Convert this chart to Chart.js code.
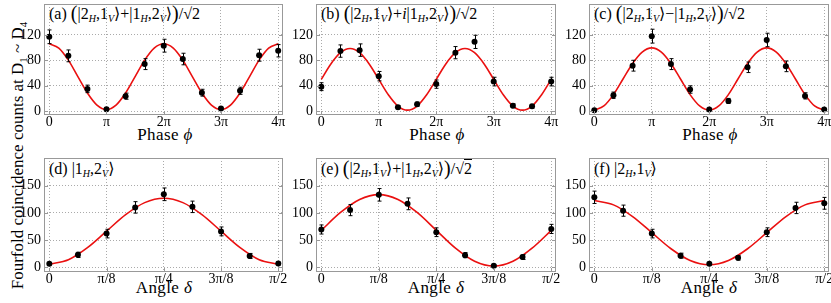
<!DOCTYPE html>
<html>
<head>
<meta charset="utf-8">
<script src="https://cdn.jsdelivr.net/npm/chart.js@4.4.0/dist/chart.umd.min.js"></script>
<style>
  body { margin: 0; width: 831px; height: 303px; position: relative; overflow: hidden; background: #fff; font-family: 'Liberation Serif', 'DejaVu Serif', serif; color: #000; }
  canvas { position: absolute; }
  .lbl { position: absolute; font-size: 16px; line-height: 16px; white-space: nowrap; }
  .lbl sub { font-size: 10px; font-style: italic; vertical-align: -3px; line-height: 0; }
  .big { font-size: 20px; line-height: 0; vertical-align: -1px; }
  .ov { border-top: 1px solid #000; }
  .xt { position: absolute; font-size: 17px; line-height: 17px; letter-spacing: 0.4px; white-space: nowrap; transform: translateX(-50%); }
  #ytitle { position: absolute; left: -133px; top: 147px; width: 300px; height: 17px; font-size: 17px; line-height: 17px; text-align: center; white-space: nowrap; transform: rotate(-90deg); }
  #ytitle sub { font-size: 11px; line-height: 0; }
</style>
</head>
<body>

<div id="ytitle">Fourfold coincidence counts at D<sub>1</sub> ~ D<sub>4</sub></div>

<div class="lbl" style="left:49px;top:6px">(a) <span class="big">(</span>|2<sub>H</sub>,1<sub>V</sub>⟩+|1<sub>H</sub>,2<sub>V</sub>⟩<span class="big">)</span>/√<span class="ov">2</span></div>
<div class="lbl" style="left:321px;top:6px">(b) <span class="big">(</span>|2<sub>H</sub>,1<sub>V</sub>⟩+<i>i</i>|1<sub>H</sub>,2<sub>V</sub>⟩<span class="big">)</span>/√<span class="ov">2</span></div>
<div class="lbl" style="left:594px;top:6px">(c) <span class="big">(</span>|2<sub>H</sub>,1<sub>V</sub>⟩−|1<sub>H</sub>,2<sub>V</sub>⟩<span class="big">)</span>/√<span class="ov">2</span></div>
<div class="lbl" style="left:49px;top:161px">(d) |1<sub>H</sub>,2<sub>V</sub>⟩</div>
<div class="lbl" style="left:321px;top:161px">(e) <span class="big">(</span>|2<sub>H</sub>,1<sub>V</sub>⟩+|1<sub>H</sub>,2<sub>V</sub>⟩<span class="big">)</span>/√<span class="ov">2</span></div>
<div class="lbl" style="left:594px;top:161px">(f) |2<sub>H</sub>,1<sub>V</sub>⟩</div>

<div class="xt" style="left:165px;top:126px">Phase <i>ϕ</i></div>
<div class="xt" style="left:437px;top:126px">Phase <i>ϕ</i></div>
<div class="xt" style="left:710px;top:126px">Phase <i>ϕ</i></div>
<div class="xt" style="left:164px;top:279px">Angle <i>δ</i></div>
<div class="xt" style="left:436px;top:279px">Angle <i>δ</i></div>
<div class="xt" style="left:709px;top:279px">Angle <i>δ</i></div>

<canvas id="pa"></canvas>
<canvas id="pb"></canvas>
<canvas id="pc"></canvas>
<canvas id="pd"></canvas>
<canvas id="pe"></canvas>
<canvas id="pf"></canvas>

<script>
// phase in units of pi
const phaseX = [0, 0.3333, 0.6667, 1, 1.3333, 1.6667, 2, 2.3333, 2.6667, 3, 3.3333, 3.6667, 4];
const countsA = [117, 87, 35, 3, 23.5, 74, 103, 82, 29, 4, 32, 88, 95];
const errA    = [10.8, 9.3, 5.9, 1.7, 4.8, 8.6, 10.1, 9.1, 5.4, 2, 5.6, 9.4, 9.7];
const countsB = [38.5, 94.5, 96, 55, 6, 11, 42.5, 92, 109, 46.5, 8.5, 7.5, 46.5];
const errB    = [6.2, 9.7, 9.8, 7.4, 2.4, 3.3, 6.5, 9.6, 10.4, 6.8, 2.9, 2.7, 6.8];
const countsC = [1.5, 25, 71.5, 118, 74, 34, 2.5, 16, 69, 112, 70.5, 24, 2.5];
const errC    = [1.2, 5, 8.5, 10.9, 8.6, 5.8, 1.6, 4, 8.3, 10.6, 8.4, 4.9, 1.6];

// fitted curves
const phaseFitX = [0, 0.1667, 0.3333, 0.5, 0.6667, 0.8333, 1, 1.1667, 1.3333, 1.5, 1.6667, 1.8333, 2,
                   2.1667, 2.3333, 2.5, 2.6667, 2.8333, 3, 3.1667, 3.3333, 3.5, 3.6667, 3.8333, 4];
const fitA = [106.0, 99.1, 80.2, 54.3, 28.5, 9.5, 2.6, 9.5, 28.5, 54.3, 80.2, 99.1, 106.0,
              99.1, 80.2, 54.3, 28.5, 9.5, 2.6, 9.5, 28.5, 54.3, 80.2, 99.1, 106.0];
const fitB = [50, 74.3, 92.0, 98.5, 92.0, 74.3, 50, 25.8, 8.0, 1.5, 8.0, 25.8, 50,
              74.3, 92.0, 98.5, 92.0, 74.3, 50, 25.8, 8.0, 1.5, 8.0, 25.8, 50];
const fitC = [1.5, 8.1, 26.0, 50.5, 75.0, 92.9, 99.5, 92.9, 75.0, 50.5, 26.0, 8.1, 1.5,
              8.1, 26.0, 50.5, 75.0, 92.9, 99.5, 92.9, 75.0, 50.5, 26.0, 8.1, 1.5];

// angle in units of pi
const angleX = [0, 0.0625, 0.125, 0.1875, 0.25, 0.3125, 0.375, 0.4375, 0.5];
const countsD = [6.5, 23, 62, 110, 134, 111, 66, 21, 7];
const errD    = [2.5, 4.8, 7.9, 10.5, 11.6, 10.5, 8.1, 4.6, 2.6];
const countsE = [69.5, 105, 133, 116.5, 64.5, 22.5, 3, 19, 70.5];
const errE    = [8.3, 10.2, 11.5, 10.8, 8, 4.7, 1.7, 4.4, 8.4];
const countsF = [128.5, 104, 62, 21.5, 6.5, 17.5, 64.5, 109, 117.5];
const errF    = [11.3, 10.2, 7.9, 4.6, 2.5, 4.2, 8, 10.4, 10.8];

const angleFitX = [0, 0.0417, 0.0833, 0.125, 0.1667, 0.2083, 0.25, 0.2917, 0.3333, 0.375, 0.4167, 0.4583, 0.5];
const fitD = [6.0, 14.1, 36.2, 66.4, 96.6, 118.7, 126.8, 118.7, 96.6, 66.4, 36.2, 14.1, 6.0];
const fitE = [67.9, 100.7, 124.6, 133.4, 124.6, 100.7, 67.9, 35.2, 11.2, 2.4, 11.2, 35.2, 67.9];
const fitF = [122.5, 114.6, 93.1, 63.7, 34.2, 12.7, 4.8, 12.7, 34.2, 63.7, 93.1, 114.6, 122.5];

// ticks
const phaseTicks = [0, 1, 2, 3, 4];
const phaseTickLabels = ['0', 'π', '2π', '3π', '4π'];
const angleTicks = [0, 0.125, 0.25, 0.375, 0.5];
const angleTickLabels = ['0', 'π/8', 'π/4', '3π/8', 'π/2'];
const phaseCountTicks = [0, 40, 80, 120];
const angleCountTicks = [0, 50, 100, 150];

const Y_AXIS_W = 30, X_AXIS_H = 20, PAD_R = 8, PAD_T = 1;
const SERIF = '"Liberation Serif", "Times New Roman", serif';

Chart.defaults.font.family = SERIF;
Chart.defaults.color = '#000';

// draws vertical error bars using the chart scales
const errorBars = {
    id: 'errorBars',
    afterDatasetsDraw(chart) {
        const ctx = chart.ctx;
        const xs = chart.scales.x, ys = chart.scales.y;
        chart.data.datasets.forEach(ds => {
            if (!ds.errors) return;
            ctx.save();
            ctx.strokeStyle = '#000';
            ctx.lineWidth = 1;
            ds.data.forEach((p, i) => {
                const px = Math.round(xs.getPixelForValue(p.x)) + 0.5;
                const y1 = ys.getPixelForValue(p.y - ds.errors[i]);
                const y2 = ys.getPixelForValue(p.y + ds.errors[i]);
                ctx.beginPath();
                ctx.moveTo(px, y1); ctx.lineTo(px, y2);
                ctx.moveTo(px - 2, y1); ctx.lineTo(px + 2, y1);
                ctx.moveTo(px - 2, y2); ctx.lineTo(px + 2, y2);
                ctx.stroke();
            });
            ctx.restore();
        });
    }
};

// gray frame around the plot area, with short inward ticks at the major ticks
const frame = {
    id: 'frame',
    afterDraw(chart) {
        const a = chart.chartArea, ctx = chart.ctx;
        const xs = chart.scales.x, ys = chart.scales.y;
        ctx.save();
        ctx.strokeStyle = '#999';
        ctx.lineWidth = 1;
        ctx.strokeRect(a.left + 0.5, a.top + 0.5, a.right - a.left - 1, a.bottom - a.top - 1);
        ctx.beginPath();
        xs.ticks.forEach(t => {
            const px = Math.round(xs.getPixelForValue(t.value)) + 0.5;
            ctx.moveTo(px, a.bottom); ctx.lineTo(px, a.bottom - 4);
        });
        ys.ticks.forEach(t => {
            const py = Math.round(ys.getPixelForValue(t.value)) + 0.5;
            ctx.moveTo(a.left, py); ctx.lineTo(a.left + 4, py);
            ctx.moveTo(a.right, py); ctx.lineTo(a.right - 4, py);
        });
        ctx.stroke();
        ctx.restore();
    }
};

function makePanel(id, box, xRange, yRange, xTicks, xLabels, yTicks, xs, ys, errs, fitXs, fit) {
    const cv = document.getElementById(id);
    const left = box.left - Y_AXIS_W, top = box.top - PAD_T;
    const w = box.right - left + PAD_R, h = box.bottom - top + X_AXIS_H;
    cv.width = w; cv.height = h;
    cv.style.left = left + 'px'; cv.style.top = top + 'px';
    cv.style.width = w + 'px'; cv.style.height = h + 'px';

    const tickFont = { family: SERIF, size: 14 };

    return new Chart(cv, {
        type: 'scatter',
        data: {
            datasets: [{
                data: xs.map((x, i) => ({ x: x, y: ys[i] })),
                errors: errs,
                backgroundColor: '#000',
                borderWidth: 0,
                pointRadius: 3,
                order: 0
            }, {
                type: 'line',
                data: fitXs.map((x, i) => ({ x: x, y: fit[i] })),
                borderColor: '#ea1010',
                borderWidth: 1.6,
                pointRadius: 0,
                cubicInterpolationMode: 'monotone',
                fill: false,
                order: 1
            }]
        },
        options: {
            responsive: false,
            animation: false,
            devicePixelRatio: 1,
            layout: { padding: { left: 0, top: PAD_T, right: PAD_R, bottom: 0 } },
            plugins: { legend: { display: false }, tooltip: { enabled: false } },
            scales: {
                x: {
                    type: 'linear',
                    min: xRange[0], max: xRange[1],
                    grid: { color: '#aaa', lineWidth: 1, drawTicks: false },
                    border: { display: false, dash: [1, 2] },
                    ticks: {
                        autoSkip: false, maxRotation: 0, padding: -1, color: '#000', font: tickFont,
                        callback: v => xLabels[xTicks.indexOf(v)]
                    },
                    afterBuildTicks: s => { s.ticks = xTicks.map(v => ({ value: v })); },
                    afterFit: s => { s.height = X_AXIS_H; s.paddingLeft = 0; s.paddingRight = 0; }
                },
                y: {
                    type: 'linear',
                    min: yRange[0], max: yRange[1],
                    grid: { color: '#aaa', lineWidth: 1, drawTicks: false },
                    border: { display: false, dash: [1, 2] },
                    ticks: { autoSkip: false, padding: 3, color: '#000', font: tickFont, callback: v => v },
                    afterBuildTicks: s => { s.ticks = yTicks.map(v => ({ value: v })); },
                    afterFit: s => { s.width = Y_AXIS_W; s.paddingTop = 0; s.paddingBottom = 0; }
                }
            }
        },
        plugins: [errorBars, frame]
    });
}

const phaseRange = [-0.092, 4.084];
const angleRange = [-0.0116, 0.5103];
const phaseCountRange = [-6.1, 168.6];
const angleCountRange = [-8.4, 200.5];

function drawAll() {
    makePanel('pa', { left: 44, right: 283, top: 1, bottom: 115 }, phaseRange, phaseCountRange,
        phaseTicks, phaseTickLabels, phaseCountTicks, phaseX, countsA, errA, phaseFitX, fitA);
    makePanel('pb', { left: 316, right: 556, top: 1, bottom: 115 }, phaseRange, phaseCountRange,
        phaseTicks, phaseTickLabels, phaseCountTicks, phaseX, countsB, errB, phaseFitX, fitB);
    makePanel('pc', { left: 589, right: 829, top: 1, bottom: 115 }, phaseRange, phaseCountRange,
        phaseTicks, phaseTickLabels, phaseCountTicks, phaseX, countsC, errC, phaseFitX, fitC);
    makePanel('pd', { left: 44, right: 283, top: 155, bottom: 272 }, angleRange, angleCountRange,
        angleTicks, angleTickLabels, angleCountTicks, angleX, countsD, errD, angleFitX, fitD);
    makePanel('pe', { left: 316, right: 556, top: 155, bottom: 272 }, angleRange, angleCountRange,
        angleTicks, angleTickLabels, angleCountTicks, angleX, countsE, errE, angleFitX, fitE);
    makePanel('pf', { left: 589, right: 829, top: 155, bottom: 272 }, angleRange, angleCountRange,
        angleTicks, angleTickLabels, angleCountTicks, angleX, countsF, errF, angleFitX, fitF);
}

// make sure the serif face is ready before the canvases draw text
if (document.fonts && document.fonts.load) {
    document.fonts.load('14px "Liberation Serif"').then(drawAll, drawAll);
} else {
    drawAll();
}
</script>
</body>
</html>
